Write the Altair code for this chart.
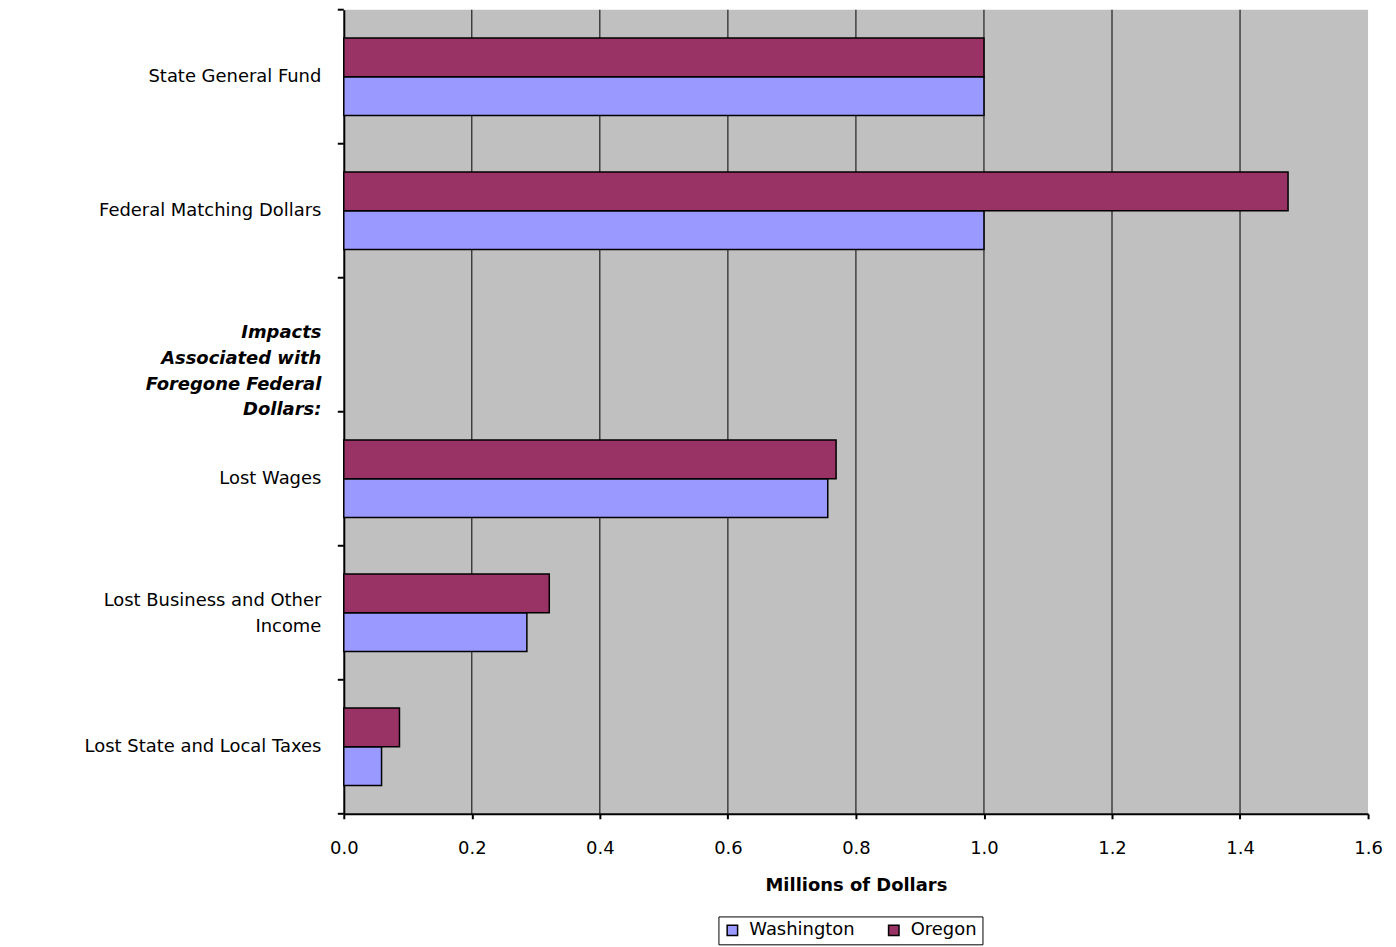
import altair as alt
import pandas as pd

categories = [
    "State General Fund",
    "Federal Matching Dollars",
    "Impacts |Associated with|Foregone Federal|Dollars:",
    "Lost Wages",
    "Lost Business and Other|Income",
    "Lost State and Local Taxes",
]
states = ["Washington", "Oregon"]
washington = [1.0, 1.0, None, 0.756, 0.286, 0.059]
oregon = [1.0, 1.475, None, 0.769, 0.321, 0.087]
x_ticks = [0.0, 0.2, 0.4, 0.6, 0.8, 1.0, 1.2, 1.4, 1.6]
grid_values = [0.2, 0.4, 0.6, 0.8, 1.0, 1.2, 1.4]
colors = ["#9999FF", "#993366"]

rows = []
for cat, w, o in zip(categories, washington, oregon):
    if w is not None:
        rows.append({"category": cat, "state": "Washington", "amount": w})
    if o is not None:
        rows.append({"category": cat, "state": "Oregon", "amount": o})
df = pd.DataFrame(rows)
grid_df = pd.DataFrame({"amount": grid_values})
cat_df = pd.DataFrame({"category": categories})
last_df = pd.DataFrame({"category": categories[-1:]})

FONT = "DejaVu Sans"
hdr_test = "indexof(datum.value, 'Impacts') >= 0"
multi_test = "indexof(datum.value, '|') >= 0"

y_scale = alt.Scale(domain=categories, paddingInner=0, paddingOuter=0)
x_scale = alt.Scale(domain=[0, 1.6], nice=False, zero=True)

x_axis = alt.Axis(
    values=x_ticks,
    format=".1f",
    title="Millions of Dollars",
    titleFont=FONT,
    titleFontSize=18,
    titleFontWeight="bold",
    titleColor="black",
    titlePadding=19,
    labelFont=FONT,
    labelFontSize=18,
    labelColor="black",
    labelPadding=21,
    labelFlush=False,
    labelOverlap=False,
    grid=False,
    domainColor="black",
    domainWidth=2,
    tickColor="black",
    tickWidth=2,
    tickSize=5,
)

y_axis = alt.Axis(
    title=None,
    domainColor="black",
    domainWidth=2,
    ticks=False,
    grid=False,
    labelFont=FONT,
    labelFontSize=18,
    labelColor="black",
    labelLimit=340,
    labelPadding=23,
    labelLineHeight=26,
    labelExpr="split(datum.label, '|')",
    labelFontWeight={"condition": {"test": hdr_test, "value": "bold"}, "value": "normal"},
    labelFontStyle={"condition": {"test": hdr_test, "value": "italic"}, "value": "normal"},
    labelOffset={"condition": {"test": multi_test, "value": -12}, "value": 0},
)

grid = alt.Chart(grid_df).mark_rule(color="black", strokeWidth=1).encode(
    x=alt.X("amount:Q", scale=x_scale, axis=x_axis),
)

cat_ticks = alt.Chart(cat_df).mark_rule(color="black", strokeWidth=2).encode(
    x=alt.value(-6),
    x2=alt.value(0),
    y=alt.Y("category:N", bandPosition=0, scale=y_scale, axis=y_axis),
)

end_tick = alt.Chart(last_df).mark_rule(color="black", strokeWidth=2).encode(
    x=alt.value(-6),
    x2=alt.value(0),
    y=alt.Y("category:N", bandPosition=1, scale=y_scale, axis=y_axis),
)

bars = alt.Chart(df).mark_bar(stroke="black", strokeWidth=1.5).encode(
    x=alt.X("amount:Q", scale=x_scale, axis=x_axis),
    y=alt.Y("category:N", scale=y_scale, axis=y_axis),
    yOffset=alt.YOffset(
        "state:N",
        scale=alt.Scale(domain=["Oregon", "Washington"], paddingInner=0, paddingOuter=0.727),
    ),
    color=alt.Color(
        "state:N",
        scale=alt.Scale(domain=states, range=colors),
        legend=alt.Legend(
            title=None,
            orient="none",
            legendX=376,
            legendY=910,
            direction="horizontal",
            strokeColor="black",
            fillColor="white",
            padding=5,
            symbolType="square",
            symbolSize=110,
            symbolStrokeColor="black",
            symbolStrokeWidth=1.5,
            labelFont=FONT,
            labelFontSize=18,
            labelColor="black",
            labelOffset=8,
            columnPadding=30,
        ),
    ),
)

chart = alt.layer(grid, bars, cat_ticks, end_tick).properties(
    width=1028,
    height=807,
    autosize=alt.AutoSizeParams(type="none"),
    padding={"left": 337, "top": 0, "right": 20, "bottom": 140},
).configure_view(
    fill="#C0C0C0",
    strokeWidth=0,
)

chart.save("out.html", embed_options={"renderer": "svg", "actions": False})
